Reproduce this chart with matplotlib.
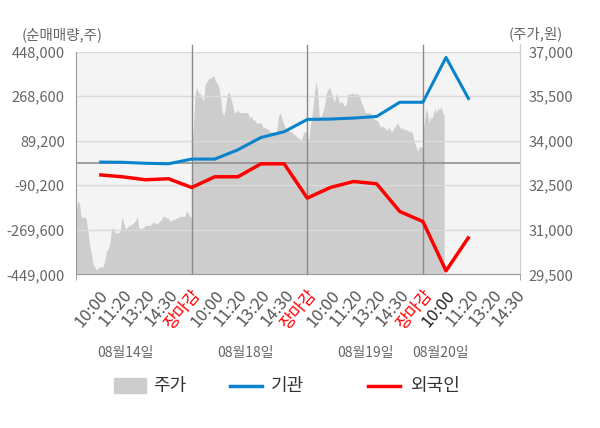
import numpy as np
import matplotlib
matplotlib.use('Agg')
import matplotlib.pyplot as plt
from matplotlib.patches import Rectangle
from matplotlib.lines import Line2D
import matplotlib.transforms as mtransforms

plt.rcParams['font.family'] = ['Noto Sans CJK KR', 'DejaVu Sans']

# x categories
tick_labels = ['10:00', '11:20', '13:20', '14:30', '장마감'] * 3 + ['10:00', '11:20', '13:20', '14:30']
date_labels = ['08월14일', '08월18일', '08월19일', '08월20일']
date_pos = [1.12, 6.31, 11.5, 14.74]
day_edges = [-1, 4, 9, 14, 14.92]

# net buying (shares)
inst = [3200, 2400, -1600, -3600, 15300, 15300, 52800, 102400, 125400, 175000,
        176500, 180600, 187000, 244300, 244300, 424900, 254400]
foreign = [-48000, -56000, -68000, -64000, -99200, -56000, -56000, -3600, -3600, -141900,
           -99200, -75000, -84200, -195900, -236200, -435000, -296700]

# stock price, per day
price_d1 = [31650, 31950, 31900, 31450, 31400, 31450, 31350, 30950, 30500, 30200, 29850, 29750,
            29650, 29700, 29750, 29750, 29750, 30000, 30300, 30350, 30600, 31050, 31050, 30900,
            30900, 30900, 30950, 31450, 31250, 31050, 31050, 31150, 31150, 31200, 31250, 31300,
            31450, 31050, 31050, 31050, 31100, 31150, 31150, 31150, 31150, 31250, 31250, 31200,
            31200, 31300, 31300, 31450, 31450, 31400, 31400, 31300, 31300, 31350, 31350, 31400,
            31400, 31450, 31450, 31450, 31450, 31650, 31550, 31450, 31400]
price_d2 = [33650, 34450, 35550, 35800, 35600, 35600, 35450, 35350, 35900, 36000, 36100, 36100,
            36150, 36200, 36000, 35950, 35800, 35450, 34950, 34850, 35200, 35550, 35650, 35450,
            35200, 34950, 34950, 35050, 34950, 34950, 34950, 34950, 34950, 34950, 34750, 34850,
            34700, 34700, 34600, 34600, 34600, 34600, 34450, 34450, 34400, 34400, 34300, 34300,
            34300, 34300, 34300, 34800, 34950, 34750, 34600, 34450, 34350, 34350, 34300, 34300,
            34200, 34200, 34100, 34100, 34000, 34100, 34300, 34300, 34300]
price_d3 = [33950, 34100, 34600, 34950, 35450, 36000, 35700, 34850, 34800, 34950, 35150, 35550,
            35700, 35800, 35650, 35450, 35300, 35600, 35450, 35250, 35350, 35250, 35150, 35250,
            35600, 35550, 35600, 35600, 35550, 35600, 35550, 35450, 35250, 35150, 34950, 34950,
            34950, 34950, 34800, 34750, 34700, 34700, 34600, 34450, 34500, 34450, 34400, 34350,
            34450, 34350, 34300, 34450, 34500, 34600, 34500, 34400, 34450, 34350, 34400, 34350,
            34300, 34350, 34200, 33950, 33800, 33650, 33800, 33800, 33800]
price_d4 = [34350, 34600, 35100, 34950, 34600, 34800, 34750, 34950, 35100, 34950, 35100, 35050,
            35150, 34950, 34850]

vol_ticks = [448000, 268600, 89200, -90200, -269600, -449000]
price_ticks = [29500, 31000, 32500, 34000, 35500, 37000]

fig = plt.figure(figsize=(6, 4.28), dpi=100)
ax = fig.add_axes([0.1267, 0.3591, 0.74, 0.5201])
ax2 = ax.twinx()
ax2.set_zorder(0)
ax.set_zorder(1)
ax.patch.set_visible(False)
ax2.patch.set_visible(True)
ax2.patch.set_facecolor('#f4f4f4')

# price area
px, py = [], []
for i, d in enumerate([price_d1, price_d2, price_d3, price_d4]):
    px.extend(np.linspace(day_edges[i], day_edges[i + 1], len(d)))
    py.extend(d)
ax2.fill_between(px, py, 29500, color='#cdcdcd', lw=0)
ax2.set_ylim(29500, 37000)
ax2.set_yticks(price_ticks)
ax2.set_yticklabels([f'{v:,}' for v in price_ticks])

xs = np.arange(len(inst))
ax.set_ylim(-449000, 448000)
ax.set_yticks(vol_ticks)
ax.set_yticklabels([f'{v:,}' for v in vol_ticks])
ax.grid(axis='y', color='#dadada', lw=1)
ax.axhline(0, color='#8a8a8a', lw=1.1)
for e in [4, 9, 14]:
    ax.axvline(e, ymin=0, ymax=1.03, color='#8a8a8a', lw=1, clip_on=False)
ax.plot(xs, inst, color='#0a82cc', lw=2.2, solid_capstyle='butt')
ax.plot(xs, foreign, color='#ff0000', lw=2.5, solid_capstyle='butt')

ax.set_xlim(-1, 18.2)
ax.set_xticks(range(len(tick_labels)))
ax.set_xticklabels(tick_labels, rotation=50, ha='right', va='top', rotation_mode='anchor',
                   fontsize=12)
ax.set_xticks([-1, 4, 9, 14, 18.2], minor=True)
ax.tick_params(axis='x', which='major', length=0, pad=9)
ax.tick_params(axis='x', which='minor', length=4, color='#999999')
for i, t in enumerate(ax.get_xticklabels()):
    if tick_labels[i] == '장마감':
        t.set_color('#ff0000')
    elif i == 15:
        t.set_color('#222222')
    else:
        t.set_color('#555555')

ax.tick_params(axis='y', length=0, pad=8, labelsize=10.5, labelcolor='#666666')
ax2.tick_params(axis='y', length=0, pad=6, labelsize=10.5, labelcolor='#666666')

for a in (ax, ax2):
    for s in a.spines.values():
        s.set_visible(False)
ax.spines['left'].set_visible(True)
ax.spines['left'].set_color('#999999')
ax.spines['bottom'].set_visible(True)
ax.spines['bottom'].set_color('#999999')
ax.spines['right'].set_visible(True)
ax.spines['right'].set_color('#d0d0d0')
ax.plot([18.2, 18.2], [448000, 480000], color='#d0d0d0', lw=1, clip_on=False)

trans = mtransforms.blended_transform_factory(ax.transData, ax.transAxes)
for p, lab in zip(date_pos, date_labels):
    ax.text(p, -0.354, lab, transform=trans, ha='center', va='center', fontsize=10,
            color='#666666')

fig.text(22 / 600, 1 - 35 / 428, '(순매매량,주)', fontsize=10.5, color='#666666', va='center')
fig.text(509 / 600, 1 - 34 / 428, '(주가,원)', fontsize=10.5, color='#666666', va='center')

# legend
ly = 1 - 385.5 / 428
fig.patches.append(Rectangle((114 / 600, 1 - 393 / 428), 32 / 600, 15 / 428,
                             transform=fig.transFigure, color='#cdcdcd'))
fig.text(153 / 600, ly, '주가', fontsize=13, color='#333333', va='center')
fig.lines.append(Line2D([230 / 600, 262 / 600], [ly, ly], transform=fig.transFigure,
                        color='#0a82cc', lw=2.5))
fig.text(271 / 600, ly, '기관', fontsize=13, color='#333333', va='center')
fig.lines.append(Line2D([368 / 600, 400 / 600], [ly, ly], transform=fig.transFigure,
                        color='#ff0000', lw=2.5))
fig.text(410 / 600, ly, '외국인', fontsize=13, color='#333333', va='center')

fig.savefig('out.png', dpi=100)
